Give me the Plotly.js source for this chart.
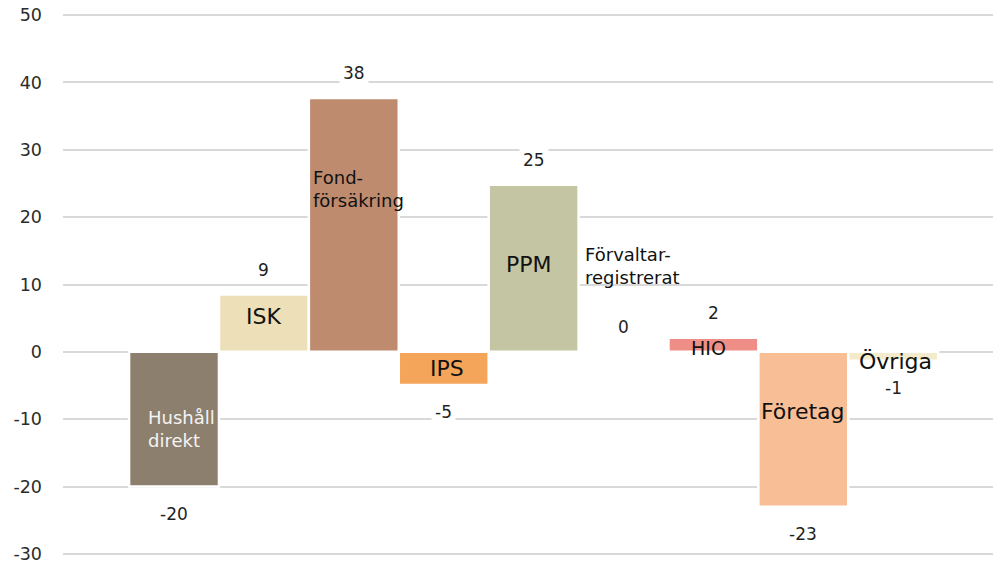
<!DOCTYPE html>
<html>
<head>
<meta charset="utf-8">
<script src="https://cdn.plot.ly/plotly-3.0.1.min.js"></script>
<style>html,body{margin:0;padding:0;background:#fff;}#chart{width:995px;height:564px;}</style>
</head>
<body>
<div id="chart"></div>
<script>
// Data
const categories = ["Hushåll direkt", "ISK", "Fondförsäkring", "IPS", "PPM", "Förvaltarregistrerat", "HIO", "Företag", "Övriga"];
const values = [-20, 8.5, 37.7, -4.9, 24.8, 0, 2.1, -23, -1.3];
const valueLabels = ["-20", "9", "38", "-5", "25", "0", "2", "-23", "-1"];
const barLabels = ["Hushåll<br>direkt", "ISK", "Fond-<br>försäkring", "IPS", "PPM", "Förvaltar-<br>registrerat", "HIO", "Företag", "Övriga"];
const colors = ["#8C7F6D", "#EDDFB8", "#BF8B6E", "#F5A55A", "#C3C5A3", "#FFFFFF", "#EE8E87", "#F8BE96", "#F3EBCB"];
const yTickVals = [-30, -20, -10, 0, 10, 20, 30, 40, 50];
const yTickText = ["-30", "-20", "-10", "0", "10", "20", "30", "40", "50"];

// Label placement (style/config, not data)
const labelY = [-11.4, 5.2, 24.2, -2.5, 12.9, 12.8, 0.6, -8.8, -1.5];
const labelXShift = [-28, 0, -43, 3, -5, -41, -24, 0, 2];
const labelAnchor = ["left", "center", "left", "center", "center", "left", "left", "center", "center"];
const labelSize = [18, 22, 18, 22, 22, 18, 19, 22, 22];
const labelColor = ["#F4F4F4", "#111111", "#111111", "#111111", "#111111", "#111111", "#111111", "#111111", "#111111"];

const font = "DejaVu Sans, Verdana, sans-serif";

const annotations = [];
categories.forEach((c, i) => {
  annotations.push({
    x: c, y: values[i], text: valueLabels[i], showarrow: false,
    yshift: values[i] < 0 ? -27 : 25, yanchor: "middle",
    bgcolor: "#ffffff", borderpad: 3,
    font: {family: font, size: 17, color: "#1f1f1f"}
  });
  annotations.push({
    x: c, y: labelY[i], text: barLabels[i], showarrow: false,
    xanchor: labelAnchor[i], xshift: labelXShift[i], align: "left", yanchor: "middle",
    font: {family: font, size: labelSize[i], color: labelColor[i]}
  });
});

const trace = {
  type: "bar", x: categories, y: values, width: 1.0,
  marker: {color: colors, line: {color: "#ffffff", width: 2.5}},
  hoverinfo: "none"
};

const layout = {
  width: 995, height: 564,
  margin: {l: 63, r: 2, t: 13, b: 8},
  paper_bgcolor: "#fff", plot_bgcolor: "#fff",
  showlegend: false,
  xaxis: {type: "category", range: [-1.235, 9.11], showticklabels: false, showgrid: false, zeroline: false, showline: false, ticks: ""},
  yaxis: {range: [-30.3, 50.3], tickmode: "array", tickvals: yTickVals, ticktext: yTickText,
    showgrid: true, gridcolor: "#D9D9D9", gridwidth: 2,
    zeroline: false, showline: false, ticks: "", ticklabelstandoff: 20, ticklabeloverflow: "allow",
    tickfont: {family: font, size: 17.5, color: "#2b2b2b"}},
  annotations: annotations,
  bargap: 0
};

Plotly.newPlot("chart", [trace], layout, {displayModeBar: false, staticPlot: true});
</script>
</body>
</html>
